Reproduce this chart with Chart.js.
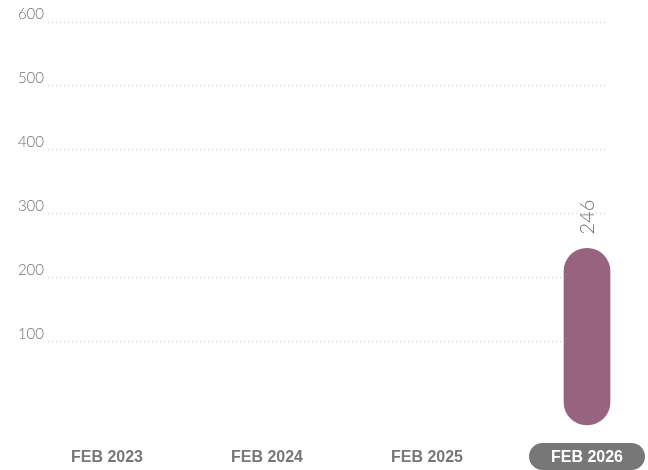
<!DOCTYPE html>
<html>
<head>
<meta charset="utf-8">
<script src="https://cdn.jsdelivr.net/npm/chart.js@4/dist/chart.umd.min.js"></script>
<style>
  html, body { margin: 0; padding: 0; background: #fff; overflow: hidden; }
  #wrap { width: 648px; height: 470px; }
</style>
</head>
<body>
<div id="wrap"><canvas id="chart" width="648" height="470"></canvas></div>
<script>
const categories = ['FEB 2023', 'FEB 2024', 'FEB 2025', 'FEB 2026'];
const values = [null, null, null, 246];
const yTicks = [100, 200, 300, 400, 500, 600];
const activeIndex = 3;

const barColor = '#97637f';
const pillColor = '#777777';

// rounded pill behind the selected month label
const pillPlugin = {
  id: 'pill',
  beforeDraw(chart) {
    const x = chart.scales.x;
    const ctx = chart.ctx;
    const cx = x.getPixelForValue(activeIndex);
    const w = 116, h = 27, top = 443;
    ctx.save();
    ctx.fillStyle = pillColor;
    ctx.beginPath();
    ctx.roundRect(cx - w / 2, top, w, h, h / 2);
    ctx.fill();
    ctx.restore();
  }
};

// rotated value above each bar
const valueLabels = {
  id: 'valueLabels',
  afterDatasetsDraw(chart) {
    const ctx = chart.ctx;
    const meta = chart.getDatasetMeta(0);
    meta.data.forEach((el, i) => {
      const v = values[i];
      if (v == null) return;
      ctx.save();
      ctx.translate(el.x, el.y - 14);
      ctx.rotate(-Math.PI / 2);
      ctx.font = '300 20px Lato, "Open Sans", sans-serif';
      ctx.fillStyle = '#6f6f6f';
      ctx.textAlign = 'left';
      ctx.textBaseline = 'middle';
      ctx.fillText(String(v), 0, 1);
      ctx.restore();
    });
  }
};

new Chart(document.getElementById('chart'), {
  type: 'bar',
  data: {
    datasets: [{
      data: values.map((v, i) => ({ x: i, y: v })),
      backgroundColor: barColor,
      base: -30,
      barThickness: 46,
      borderRadius: 23,
      borderSkipped: false,
      clip: false
    }]
  },
  options: {
    responsive: false,
    animation: false,
    layout: { padding: { top: 22, right: 40, left: 0, bottom: 0 } },
    plugins: { legend: { display: false }, tooltip: { enabled: false } },
    scales: {
      x: {
        type: 'linear',
        offset: false,
        min: -0.36875,
        max: 3.13125,
        afterBuildTicks: axis => { axis.ticks = categories.map((c, i) => ({ value: i })); },
        afterFit: axis => { axis.height = 45; },
        grid: { display: false, drawTicks: false },
        border: { display: false },
        ticks: {
          padding: 23,
          maxRotation: 0,
          autoSkip: false,
          callback: v => categories[v],
          color: ctx => ctx.index === activeIndex ? '#ffffff' : '#777777',
          font: { family: '"Liberation Sans", Arial, sans-serif', size: 16, weight: 'bold' }
        }
      },
      y: {
        min: -30,
        max: 600,
        afterBuildTicks: axis => { axis.ticks = yTicks.map(v => ({ value: v })); },
        afterFit: axis => { axis.width = 48; },
        grid: { color: '#c8c8c8', lineWidth: 1, drawTicks: false },
        border: { display: false, dash: [1, 3] },
        ticks: {
          padding: 4,
          labelOffset: -8,
          color: '#6f6f6f',
          font: { family: 'Lato, "Open Sans", sans-serif', size: 15, weight: '300' }
        }
      }
    }
  },
  plugins: [pillPlugin, valueLabels]
});
</script>
</body>
</html>
